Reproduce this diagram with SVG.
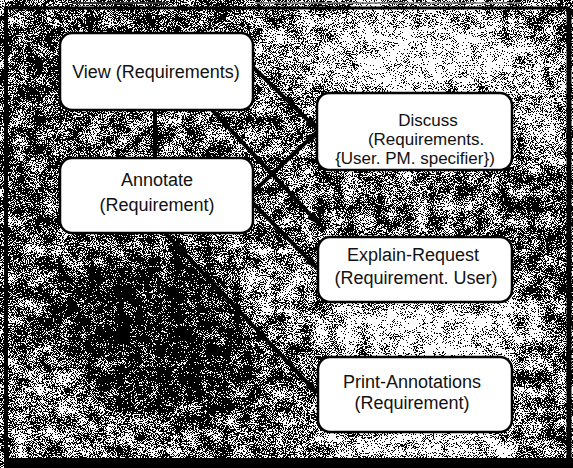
<svg xmlns="http://www.w3.org/2000/svg" width="573" height="468" viewBox="0 0 573 468">
  <defs>
    <style>
      .node rect { fill: #ffffff; stroke: #000000; stroke-width: 2.5; }
      .node text { font-family: "Liberation Sans", Arial, sans-serif; font-size: 18px; fill: #111111; text-anchor: middle; }
      .node text.sm { font-size: 17px; }
      .edge { stroke: #000000; stroke-width: 4; fill: none; marker-end: url(#arrow); }
      .frame { fill: none; stroke: #000000; }
    </style>
    <marker id="arrow" markerUnits="userSpaceOnUse" markerWidth="13" markerHeight="10" refX="12" refY="5" orient="auto">
      <path d="M0,0 L13,5 L0,10 z" fill="#000000"/>
    </marker>
    <filter id="soft" x="-50%" y="-50%" width="200%" height="200%">
      <feGaussianBlur stdDeviation="18"/>
    </filter>
    <filter id="grain" filterUnits="userSpaceOnUse" x="0" y="0" width="573" height="468" color-interpolation-filters="sRGB">
      <feTurbulence type="fractalNoise" baseFrequency="1.1" numOctaves="2" seed="7" result="fineRaw"/>
      <feColorMatrix in="fineRaw" type="matrix" values="1 0 0 0 0  1 0 0 0 0  1 0 0 0 0  0 0 0 0 1" result="fine"/>
      <feTurbulence type="fractalNoise" baseFrequency="0.07" numOctaves="3" seed="11" result="midRaw"/>
      <feColorMatrix in="midRaw" type="matrix" values="1 0 0 0 0  1 0 0 0 0  1 0 0 0 0  0 0 0 0 1" result="mid"/>
      <feComposite in="fine" in2="mid" operator="arithmetic" k1="0" k2="0.7" k3="0.3" k4="0" result="noise"/>
      <feComposite in="SourceGraphic" in2="noise" operator="arithmetic" k1="0" k2="1" k3="4" k4="-2" result="sum"/>
      <feComponentTransfer in="sum">
        <feFuncR type="discrete" tableValues="0 1"/>
        <feFuncG type="discrete" tableValues="0 1"/>
        <feFuncB type="discrete" tableValues="0 1"/>
        <feFuncA type="linear" slope="0" intercept="1"/>
      </feComponentTransfer>
    </filter>
  </defs>

  <rect x="0" y="0" width="573" height="468" fill="#ffffff"/>

  <!-- textured background -->
  <g id="background" filter="url(#grain)">
    <rect x="0" y="0" width="573" height="468" fill="#6a6a6a"/>
    <g filter="url(#soft)">
      <ellipse cx="410" cy="55" rx="120" ry="45" fill="#e0e0e0"/>
      <ellipse cx="300" cy="45" rx="50" ry="30" fill="#a8a8a8"/>
      <ellipse cx="430" cy="330" rx="110" ry="45" fill="#d8d8d8"/>
      <ellipse cx="420" cy="445" rx="120" ry="25" fill="#d0d0d0"/>
      <ellipse cx="545" cy="110" rx="30" ry="60" fill="#b0b0b0"/>
      <ellipse cx="540" cy="205" rx="30" ry="40" fill="#4a4a4a"/>
      <ellipse cx="545" cy="290" rx="25" ry="40" fill="#585858"/>
      <ellipse cx="150" cy="340" rx="120" ry="90" fill="#1c1c1c"/>
      <ellipse cx="285" cy="165" rx="30" ry="65" fill="#747474"/>
      <ellipse cx="40" cy="90" rx="45" ry="70" fill="#4e4e4e"/>
      <ellipse cx="140" cy="20" rx="140" ry="20" fill="#505050"/>
      <ellipse cx="45" cy="400" rx="45" ry="45" fill="#888888"/>
      <ellipse cx="275" cy="290" rx="35" ry="35" fill="#a0a0a0"/>
      <ellipse cx="120" cy="440" rx="70" ry="20" fill="#868686"/>
      <ellipse cx="30" cy="210" rx="30" ry="45" fill="#4a4a4a"/>
    </g>
  </g>

  <!-- frame -->
  <g id="frame">
    <line x1="72" y1="3" x2="168" y2="3" stroke="#333333" stroke-width="2"/>
    <line x1="255" y1="3" x2="520" y2="3" stroke="#777777" stroke-width="1.5"/>
    <line x1="4" y1="8" x2="570" y2="8" class="frame" stroke-width="3"/>
    <line x1="6" y1="8" x2="6" y2="462" class="frame" stroke-width="4"/>
    <line x1="569" y1="8" x2="569" y2="462" class="frame" stroke-width="5"/>
    <rect x="4" y="458" width="569" height="10" fill="#000000"/>
  </g>

  <!-- connectors -->
  <g id="connectors">
    <line class="edge" x1="155" y1="110" x2="155" y2="157"/>
    <line class="edge" x1="252" y1="66" x2="317" y2="129"/>
    <line class="edge" x1="252" y1="193" x2="317" y2="132"/>
    <line class="edge" x1="212" y1="110" x2="319" y2="224"/>
    <line class="edge" x1="252" y1="202" x2="317" y2="268"/>
    <line class="edge" x1="165" y1="233" x2="317" y2="393"/>
  </g>

  <!-- nodes -->
  <g id="view" class="node">
    <rect x="60" y="33" width="193" height="77" rx="12" ry="12"/>
    <text x="156" y="78">View (Requirements)</text>
  </g>
  <g id="annotate" class="node">
    <rect x="60" y="158" width="193" height="75" rx="12" ry="12"/>
    <text x="157" y="186">Annotate</text>
    <text x="157" y="211">(Requirement)</text>
  </g>
  <g id="discuss" class="node">
    <rect x="317" y="93" width="195" height="77" rx="12" ry="12"/>
    <text class="sm" x="428" y="126">Discuss</text>
    <text class="sm" x="426" y="145">(Requirements.</text>
    <text class="sm" x="415" y="164">{User. PM. specifier})</text>
  </g>
  <g id="explain" class="node">
    <rect x="318" y="237" width="194" height="65" rx="12" ry="12"/>
    <text x="413" y="261">Explain-Request</text>
    <text x="416" y="284">(Requirement. User)</text>
  </g>
  <g id="print" class="node">
    <rect x="318" y="357" width="194" height="75" rx="12" ry="12"/>
    <text x="412" y="388">Print-Annotations</text>
    <text x="412" y="409">(Requirement)</text>
  </g>
</svg>
